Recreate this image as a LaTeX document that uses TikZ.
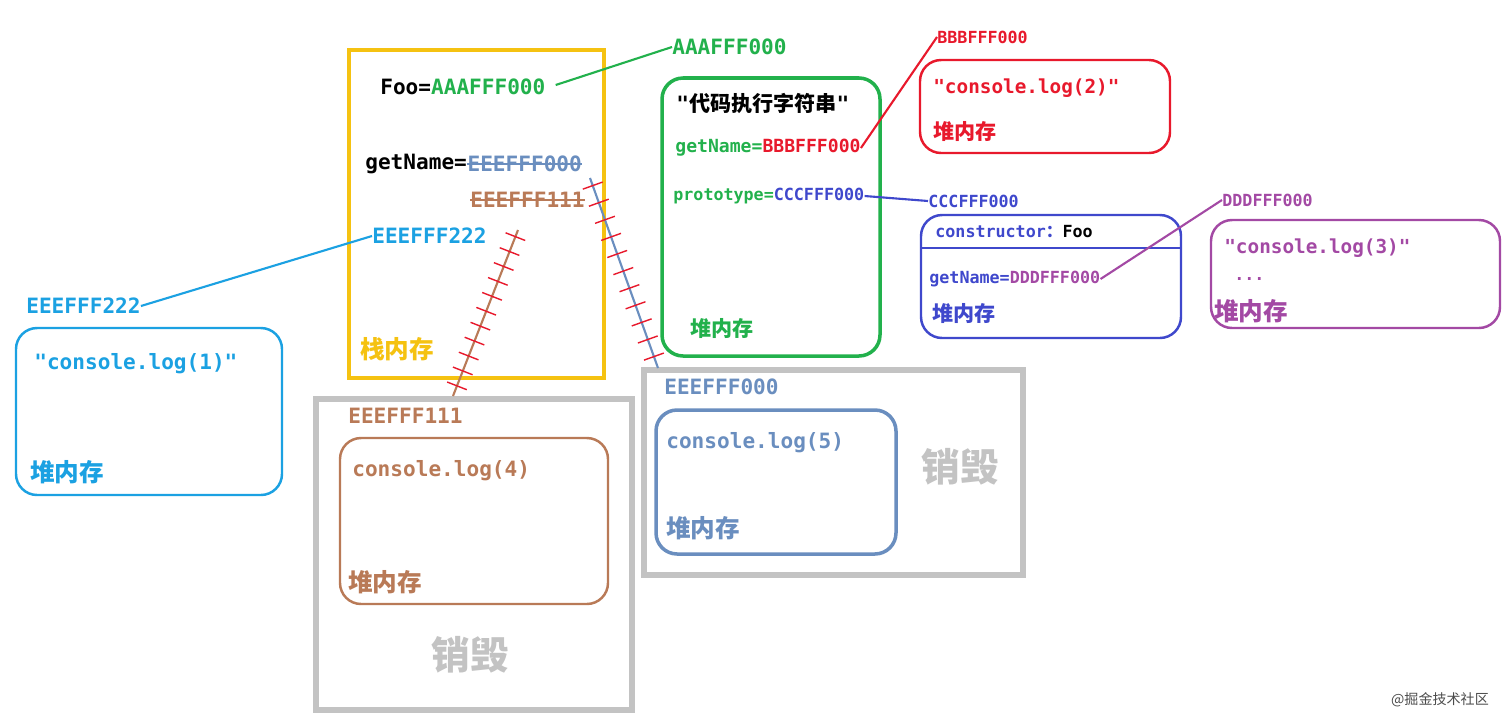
\documentclass[tikz,border=0pt]{standalone}
\usepackage{fontspec}
\setmonofont{DejaVu Sans Mono}
\newfontfamily\cjk{Noto Sans CJK SC}
\usetikzlibrary{decorations.markings}
\definecolor{stackc}{HTML}{F5C211}
\definecolor{heapg}{HTML}{22B14C}
\definecolor{heapr}{HTML}{E8192C}
\definecolor{heapb}{HTML}{3F48CC}
\definecolor{heapp}{HTML}{A349A4}
\definecolor{heapc}{HTML}{1BA1E2}
\definecolor{steel}{HTML}{6A8EBF}
\definecolor{brownc}{HTML}{B97A57}
\definecolor{gone}{HTML}{C3C3C3}
\tikzset{
  lbl/.style={anchor=west, inner sep=0pt, font=\ttfamily\bfseries\fontsize{12}{14}\selectfont},
  small/.style={anchor=west, inner sep=0pt, font=\ttfamily\bfseries\fontsize{9.5}{11}\selectfont},
  mem/.style={anchor=west, inner sep=0pt, font=\cjk\bfseries\fontsize{12}{14}\selectfont},
  bigmem/.style={mem, font=\cjk\bfseries\fontsize{14}{16}\selectfont},
  heapbox/.style={rounded corners=12pt, line width=1.4pt},
  gonebox/.style={draw=gone, line width=3.4pt},
  link/.style={line width=1.2pt},
  cut/.style={postaction={decorate, decoration={markings,
    mark=between positions 0.04 and 0.98 step 0.09 with {\draw[heapr, line width=0.8pt] (0,-6pt) -- (0,6pt);}}}}
}
\def\code#1{\texttt{#1}}
\begin{document}
\begin{tikzpicture}[x=0.02cm, y=-0.02cm]
  \useasboundingbox[fill=white] (0,0) rectangle (1508,721);
  % destroyed frames
  \draw[gonebox] (316,399) rectangle (632,710);
  \draw[gonebox] (644,370) rectangle (1023,575);
  \node[font=\cjk\bfseries\fontsize{22}{24}\selectfont, text=gone] (gone1) at (470,655) {销毁};
  \node[font=\cjk\bfseries\fontsize{22}{24}\selectfont, text=gone] (gone2) at (960,467) {销毁};
  % stack
  \draw[stackc, line width=2.3pt] (349,50) rectangle (604,378);
  \node[lbl] (foo) at (380,87) {Foo=\textcolor{heapg}{AAAFFF000}};
  \node[lbl] (getn) at (365,164) {getName=};
  \node[lbl, text=steel] (e0) at (getn.east) {EEEFFF000};
  \node[lbl, text=brownc] (e1) at (470,200) {EEEFFF111};
  \node[lbl, text=heapc] (e2) at (372,236) {EEEFFF222};
  \draw[steel, line width=1pt] (e0.west) -- (e0.east);
  \draw[brownc, line width=1pt] (e1.west) -- (e1.east);
  \node[bigmem, text=stackc] (stk) at (360,349) {栈内存};
  % heap 1
  \draw[heapc, heapbox] (16,328) rectangle (282,495);
  \node[lbl, text=heapc] (h1addr) at (26,306) {EEEFFF222};
  \node[lbl, text=heapc] (h1txt) at (34,364) {"console.log(1)"};
  \node[bigmem, text=heapc] (h1mem) at (30,472) {堆内存};
  \draw[heapc, link] (h1addr.east) -- (e2.west);
  % heap Foo
  \draw[heapg, heapbox, line width=2pt] (662,78) rectangle (880,356);
  \node[lbl, text=heapg] (fooaddr) at (672,47) {AAAFFF000};
  \draw[heapg, link] (foo.east) ++(10,-2) coordinate (fooend) -- (fooaddr.west);
  \node[lbl] (src) at (676,103) {"\cjk 代码执行字符串\ttfamily"};
  \node[small, font=\ttfamily\bfseries\fontsize{10.3}{12}\selectfont, text=heapg] (gn) at (675,148) {getName=\textcolor{heapr}{BBBFFF000}};
  \node[small, text=heapg] (proto) at (673,196) {prototype=\textcolor{heapb}{CCCFFF000}};
  \node[mem, text=heapg] (h2mem) at (690,328) {堆内存};
  % heap 2
  \draw[heapr, heapbox] (920,60) rectangle (1170,153);
  \node[small, text=heapr] (h3addr) at (937,37) {BBBFFF000};
  \node[lbl, text=heapr, font=\ttfamily\bfseries\fontsize{11}{13}\selectfont] (h3txt) at (933,88) {"console.log(2)"};
  \node[mem, text=heapr] (h3mem) at (933,131) {堆内存};
  \draw[heapr, link] (gn.east) -- (h3addr.west);
  % prototype
  \draw[heapb, heapbox] (921,215) rectangle (1181,338);
  \draw[heapb, line width=1.4pt] (921,248) -- (1181,248);
  \node[small, text=heapb] (paddr) at (928,201) {CCCFFF000};
  \node[small, text=heapb] (ctor) at (935,232) {constructor{\cjk ：}\textcolor{black}{Foo}};
  \node[small, text=heapb] (pgn) at (929,279) {getName=\textcolor{heapp}{DDDFFF000}};
  \node[mem, text=heapb] (pmem) at (932,313) {堆内存};
  \draw[heapb, link] (proto.east) -- (paddr.west);
  % heap 3
  \draw[heapp, heapbox] (1211,220) rectangle (1500,328);
  \node[small, text=heapp] (h4addr) at (1222,200) {DDDFFF000};
  \node[lbl, text=heapp, font=\ttfamily\bfseries\fontsize{11}{13}\selectfont] (h4txt) at (1224,248) {"console.log(3)"};
  \node[small, text=heapp] (h4dots) at (1234,279) {...};
  \node[bigmem, text=heapp] (h4mem) at (1214,311) {堆内存};
  \draw[heapp, link] (pgn.east) -- (h4addr.west);
  % destroyed heaps
  \draw[brownc, heapbox] (340,438) rectangle (608,604);
  \node[lbl, text=brownc] (h5addr) at (348,416) {EEEFFF111};
  \node[lbl, text=brownc] (h5txt) at (352,471) {console.log(4)};
  \node[bigmem, text=brownc] (h5mem) at (348,582) {堆内存};
  \draw[steel, heapbox, line width=2pt] (656,410) rectangle (896,554);
  \node[lbl, text=steel] (h6addr) at (664,387) {EEEFFF000};
  \node[lbl, text=steel] (h6txt) at (666,443) {console.log(5)};
  \node[bigmem, text=steel] (h6mem) at (666,528) {堆内存};
  % cut links
  \coordinate (c1) at (518,230);
  \coordinate (c2) at (453,396);
  \coordinate (c3) at (590,178);
  \coordinate (c4) at (658,368);
  \draw[brownc, link, cut] (c1) -- (c2);
  \draw[steel, link, cut] (c3) -- (c4);
  \node[font=\cjk\fontsize{8}{9}\selectfont, text=black!70] (mark) at (1440,700) {@掘金技术社区};
\end{tikzpicture}
\end{document}
